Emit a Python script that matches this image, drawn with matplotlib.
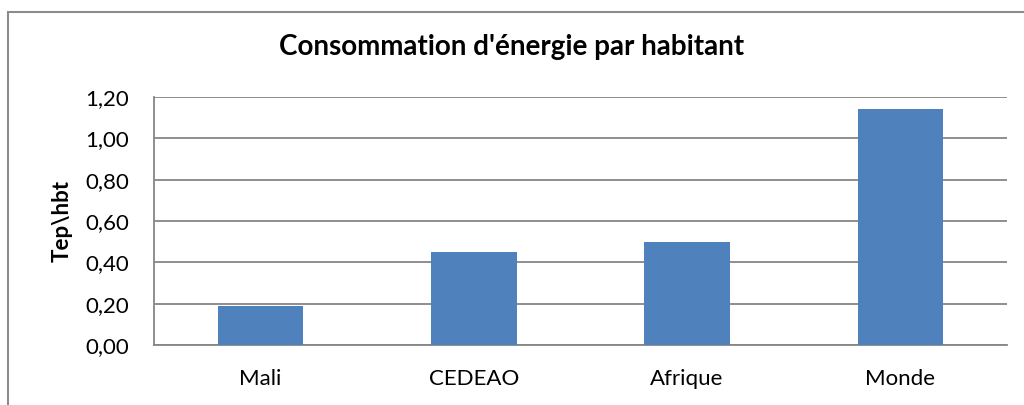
import matplotlib.pyplot as plt
from matplotlib.patches import Rectangle

# Data
categories = ['Mali', 'CEDEAO', 'Afrique', 'Monde']
values = [0.19, 0.45, 0.50, 1.14]
yticks = [0.0, 0.2, 0.4, 0.6, 0.8, 1.0, 1.2]

plt.rcParams['font.family'] = ['Lato', 'DejaVu Sans']

fig = plt.figure(figsize=(10.24, 4.05), dpi=100)
ax = fig.add_axes([154/1024, 1-345/405, (1007-154)/1024, (345-97)/405])

# chart border (Excel-like frame)
fig.patches.append(Rectangle((8/1024, -0.05), 1.1, 1-12/405+0.05, transform=fig.transFigure,
                             fill=False, edgecolor='#8c8c8c', linewidth=1.5))

ax.bar(range(len(categories)), values, width=0.4, color='#4F81BD', zorder=3)
ax.set_xlim(-0.5, len(categories)-0.5)
ax.set_ylim(0, 1.2)
ax.set_yticks(yticks)
ax.set_yticklabels([('%.2f' % v).replace('.', ',') for v in yticks], fontsize=16)
ax.set_xticks(range(len(categories)))
ax.set_xticklabels(categories, fontsize=16)
ax.tick_params(axis='y', length=0, pad=18)
ax.tick_params(axis='x', length=0, pad=17)
ax.grid(axis='y', color='#868686', linewidth=1.3, zorder=0)
for s in ['top', 'right']:
    ax.spines[s].set_visible(False)
for s in ['left', 'bottom']:
    ax.spines[s].set_color('#868686')
    ax.spines[s].set_linewidth(1.3)

ax.set_ylabel('Tep\\hbt', fontsize=16, fontweight='bold', labelpad=9)
fig.text(0.5, 1-47/405, "Consommation d'énergie par habitant", ha='center', va='center',
         fontsize=20, fontweight='bold')

fig.savefig('out.png', dpi=100)
